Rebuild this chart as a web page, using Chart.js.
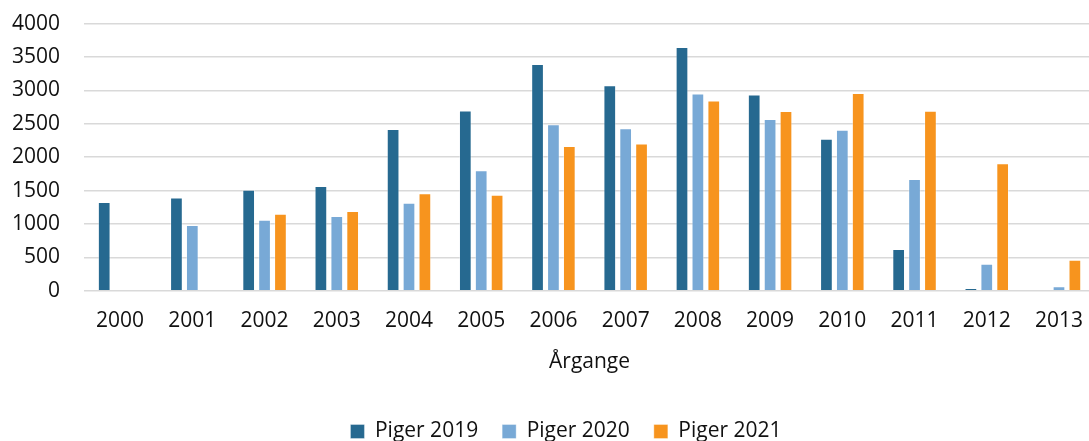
<!DOCTYPE html>
<html>
<head>
<meta charset="utf-8">
<script src="https://cdn.jsdelivr.net/npm/chart.js@4.4.1/dist/chart.umd.min.js"></script>
<style>
html,body{margin:0;padding:0;background:#fff;overflow:hidden;}
#wrap{width:1101px;height:441px;}
</style>
</head>
<body>
<div id="wrap"><canvas id="c" width="1101" height="441" style="width:1101px;height:441px"></canvas></div>
<script>
const categories = ['2000','2001','2002','2003','2004','2005','2006','2007','2008','2009','2010','2011','2012','2013'];
const piger2019 = [1330, 1395, 1512, 1567, 2421, 2700, 3394, 3075, 3648, 2940, 2275, 624, 40, null];
const piger2020 = [null, 985, 1063, 1118, 1317, 1802, 2491, 2431, 2955, 2570, 2410, 1672, 404, 66];
const piger2021 = [null, null, 1153, 1193, 1458, 1437, 2166, 2206, 2850, 2690, 2960, 2695, 1907, 464];
const seriesNames = ['Piger 2019', 'Piger 2020', 'Piger 2021'];
const colors = ['#266990', '#78A9D6', '#F7941E'];
const xTitle = 'Årgange';

const FONT = "'Open Sans', sans-serif";
const FS = 21;
const TXT = '#111111';

const legendShift = {
  id: 'legendShift',
  afterLayout(chart) {
    if (chart.legend) { chart.legend.left += 15.5; chart.legend.right += 15.5; }
  }
};

new Chart(document.getElementById('c'), {
  type: 'bar',
  data: {
    labels: categories,
    datasets: [piger2019, piger2020, piger2021].map((d, i) => ({
      label: seriesNames[i],
      data: d,
      backgroundColor: colors[i],
      borderColor: 'rgba(255,255,255,0.35)',
      borderWidth: 1,
      barPercentage: 0.8,
      categoryPercentage: 0.66
    }))
  },
  plugins: [legendShift],
  options: {
    responsive: false,
    animation: false,
    layout: { padding: { top: 0, left: 0, right: 0, bottom: -11 } },
    plugins: {
      legend: {
        position: 'bottom',
        labels: {
          font: { family: FONT, size: FS },
          color: TXT,
          boxWidth: 14,
          boxHeight: 14,
          padding: 24
        }
      },
      tooltip: { enabled: false }
    },
    scales: {
      x: {
        grid: { display: false, drawTicks: false },
        border: { display: false },
        ticks: { font: { family: FONT, size: FS }, color: TXT, padding: 18, maxRotation: 0 },
        title: { display: true, text: xTitle, font: { family: FONT, size: FS }, color: TXT, padding: { top: 0, bottom: 22 } },
        afterFit: s => { s.height = 106.3; }
      },
      y: {
        min: 0, max: 4000,
        ticks: { stepSize: 500, font: { family: FONT, size: FS }, color: TXT, padding: 24, callback: v => String(v) },
        grid: { color: '#D9D9D9', lineWidth: 1.5, drawTicks: false },
        border: { display: false },
        afterFit: s => { s.width = 84; s.paddingTop = 23.6; s.paddingBottom = 0; }
      }
    }
  }
});
</script>
</body>
</html>
